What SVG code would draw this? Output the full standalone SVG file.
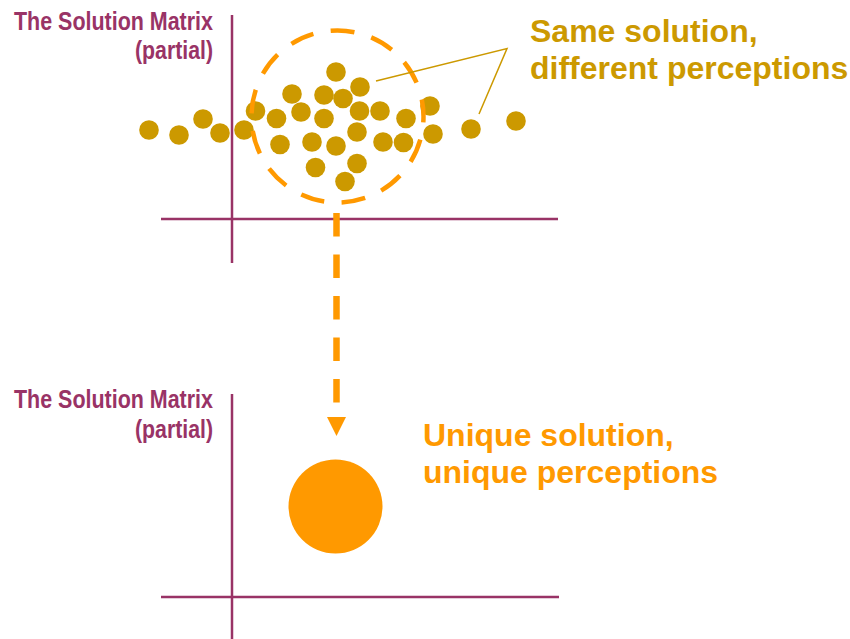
<svg xmlns="http://www.w3.org/2000/svg" width="850" height="639" viewBox="0 0 850 639">
  <style>
    .axis { stroke: #993366; stroke-width: 2.5; fill: none; }
    .mlabel { font-family: "Liberation Sans Narrow", "Liberation Sans", Arial, sans-serif; font-weight: bold; font-size: 25px; fill: #993366; }
    .dot { fill: #CC9900; }
    .same { font-family: "Liberation Sans", Arial, sans-serif; font-weight: bold; font-size: 32px; fill: #CC9900; }
    .unique { font-family: "Liberation Sans", Arial, sans-serif; font-weight: bold; font-size: 32px; fill: #FF9900; }
    .leader { stroke: #CC9900; stroke-width: 1.5; fill: none; }
  </style>
  <defs>
    <marker id="arrowhead" markerUnits="userSpaceOnUse" markerWidth="20" markerHeight="20" refX="0" refY="9.5" orient="auto">
      <path d="M0,0 L19,9.5 L0,19 Z" fill="#FF9900"/>
    </marker>
  </defs>
  <rect width="850" height="639" fill="#FFFFFF"/>

  <g id="top-matrix">
    <line class="axis" x1="232" y1="15" x2="232" y2="263"/>
    <line class="axis" x1="161" y1="219" x2="558" y2="219"/>
    <text class="mlabel" x="14" y="30" textLength="199" lengthAdjust="spacingAndGlyphs">The Solution Matrix</text>
    <text class="mlabel" x="135" y="59" textLength="78" lengthAdjust="spacingAndGlyphs">(partial)</text>
  </g>

  <g id="solution-dots">
    <circle class="dot" cx="149" cy="130" r="9.8"/>
    <circle class="dot" cx="179" cy="135" r="9.8"/>
    <circle class="dot" cx="203" cy="119" r="9.8"/>
    <circle class="dot" cx="220" cy="133" r="9.8"/>
    <circle class="dot" cx="244" cy="130" r="9.8"/>
    <circle class="dot" cx="336" cy="72" r="9.8"/>
    <circle class="dot" cx="360" cy="87" r="9.8"/>
    <circle class="dot" cx="292" cy="94" r="9.8"/>
    <circle class="dot" cx="324" cy="95" r="9.8"/>
    <circle class="dot" cx="343" cy="98.5" r="9.8"/>
    <circle class="dot" cx="255.5" cy="111" r="9.8"/>
    <circle class="dot" cx="276.5" cy="118.5" r="9.8"/>
    <circle class="dot" cx="301" cy="112" r="9.8"/>
    <circle class="dot" cx="324" cy="118.5" r="9.8"/>
    <circle class="dot" cx="359.5" cy="111" r="9.8"/>
    <circle class="dot" cx="380" cy="111" r="9.8"/>
    <circle class="dot" cx="406" cy="118.5" r="9.8"/>
    <circle class="dot" cx="430" cy="106" r="9.8"/>
    <circle class="dot" cx="280" cy="144.5" r="9.8"/>
    <circle class="dot" cx="312" cy="142" r="9.8"/>
    <circle class="dot" cx="336" cy="146" r="9.8"/>
    <circle class="dot" cx="357" cy="132" r="9.8"/>
    <circle class="dot" cx="383" cy="142" r="9.8"/>
    <circle class="dot" cx="403.5" cy="142.5" r="9.8"/>
    <circle class="dot" cx="433" cy="134" r="9.8"/>
    <circle class="dot" cx="315.5" cy="167.5" r="9.8"/>
    <circle class="dot" cx="357" cy="163.5" r="9.8"/>
    <circle class="dot" cx="345" cy="181.5" r="9.8"/>
    <circle class="dot" cx="471" cy="129" r="9.8"/>
    <circle class="dot" cx="516" cy="121" r="9.8"/>
  </g>

  <g id="selection-circle">
    <circle cx="337.5" cy="116.5" r="86" fill="none" stroke="#FF9900" stroke-width="4.5" stroke-dasharray="24 17.566" stroke-dashoffset="18"/>
  </g>

  <g id="same-label">
    <text class="same" x="530" y="42">Same solution,</text>
    <text class="same" x="530" y="79">different perceptions</text>
  </g>

  <g id="bottom-matrix">
    <line class="axis" x1="232" y1="394" x2="232" y2="639"/>
    <line class="axis" x1="161" y1="597" x2="559" y2="597"/>
    <text class="mlabel" x="14" y="408" textLength="199" lengthAdjust="spacingAndGlyphs">The Solution Matrix</text>
    <text class="mlabel" x="135" y="438" textLength="78" lengthAdjust="spacingAndGlyphs">(partial)</text>
  </g>

  <g id="unique-solution">
    <circle cx="335.5" cy="506.5" r="47" fill="#FF9900"/>
  </g>

  <g id="unique-label">
    <text class="unique" x="423" y="446">Unique solution,</text>
    <text class="unique" x="423" y="483">unique perceptions</text>
  </g>

  <g id="connectors">
    <polyline class="leader" points="376,81 507,48.5 479,114"/>
    <line x1="336.5" y1="213" x2="336.5" y2="417" stroke="#FF9900" stroke-width="6.5" stroke-dasharray="23.5 18" marker-end="url(#arrowhead)"/>
  </g>
</svg>
